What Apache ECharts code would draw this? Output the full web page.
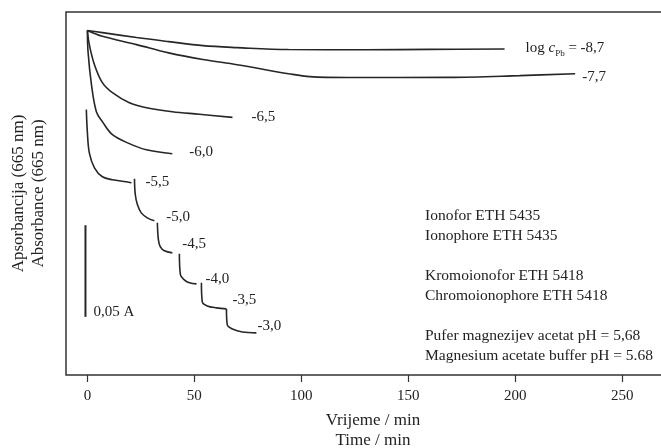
<!DOCTYPE html>
<html>
<head>
<meta charset="utf-8">
<script src="https://cdn.jsdelivr.net/npm/echarts@6/dist/echarts.min.js"></script>
<style>
html, body { margin: 0; padding: 0; background: #fff; }
#main { width: 661px; height: 448px; }
</style>
</head>
<body>
<div id="main"></div>
<script>
// time (min), absorbance (A)
var curve87 = [[0,0.1955],[7,0.1943],[23,0.1915],[38,0.1892],[54,0.1869],[70,0.1858],[94,0.1847],[130,0.1846],[160,0.1848],[195,0.1850]];
var curve77 = [[0,0.1955],[7,0.1922],[23,0.1875],[38,0.1828],[54,0.1790],[70,0.1761],[94,0.1710],[104,0.1693],[122,0.1688],[169,0.1689],[202,0.1699],[228,0.1710]];
var curve65 = [[0,0.1955],[0.9,0.1875],[3.3,0.1761],[7,0.1659],[11.7,0.1602],[19.6,0.1545],[27.6,0.1517],[39.7,0.1494],[52.3,0.1480],[67.8,0.1462]];
var curve60 = [[0,0.1955],[0.3,0.1835],[1.9,0.1648],[4.2,0.1494],[7,0.1438],[11.7,0.1364],[19.6,0.1313],[27.6,0.1278],[39.7,0.1256]];
var curve55 = [[-0.5,0.1506],[0,0.1375],[0.9,0.1261],[3.3,0.1176],[7,0.1125],[11.7,0.1108],[18.2,0.1097],[20.6,0.1091]];
var curve50 = [[22,0.1114],[22.4,0.1023],[23.4,0.0966],[25.2,0.0920],[28,0.0892],[31.3,0.0875]];
var curve45 = [[32.7,0.0864],[33.2,0.0767],[34.1,0.0727],[36,0.0705],[39.7,0.0693]];
var curve40 = [[43,0.0688],[43.5,0.0568],[45.3,0.0540],[47.7,0.0523],[51,0.0517]];
var curve35 = [[53.3,0.0523],[53.7,0.0415],[56,0.0392],[60.3,0.0381],[65,0.0375]];
var curve30 = [[65,0.0375],[65.4,0.0284],[67.8,0.0261],[72.4,0.0244],[79,0.0239]];
var scaleBar = [[-0.9,0.085],[-0.9,0.033]];

var curveNames = ['-8,7','-7,7','-6,5','-6,0','-5,5','-5,0','-4,5','-4,0','-3,5','-3,0'];
var xTicks = [0, 50, 100, 150, 200, 250];
var notes = [
    'Ionofor ETH 5435', 'Ionophore ETH 5435', '',
    'Kromoionofor ETH 5418', 'Chromoionophore ETH 5418', '',
    'Pufer magnezijev acetat pH = 5,68', 'Magnesium acetate buffer pH = 5.68'
];

var serif = '"Liberation Serif", "DejaVu Serif", serif';
var ink = '#262626';

var curves = [curve87, curve77, curve65, curve60, curve55, curve50, curve45, curve40, curve35, curve30];
var offsets = [[21,-1],[7,3],[19,0],[17,-2],[14,-1],[12,-4],[10,-9],[9,-5],[6,-9],[1,-7]];

var series = curves.map(function (d, i) {
    var name = curveNames[i];
    var lbl = {
        show: true,
        distance: 0,
        offset: offsets[i],
        color: '#222',
        fontFamily: serif,
        fontSize: 15,
        formatter: name
    };
    if (i === 0) {
        lbl.formatter = '{n|log }{i|c}{s|Pb}{n| = ' + name + '}';
        lbl.rich = {
            n: { fontFamily: serif, fontSize: 15, color: '#222', verticalAlign: 'middle', lineHeight: 20 },
            i: { fontFamily: serif, fontSize: 15, fontStyle: 'italic', color: '#222', verticalAlign: 'middle', lineHeight: 20 },
            s: { fontFamily: serif, fontSize: 9, color: '#222', verticalAlign: 'bottom', lineHeight: 11 }
        };
    }
    return {
        name: name,
        type: 'line',
        data: d,
        symbol: 'none',
        smooth: 0.35,
        silent: true,
        lineStyle: { color: ink, width: 1.6 },
        endLabel: lbl
    };
});

series.push({
    name: 'scale',
    type: 'line',
    data: scaleBar,
    symbol: 'none',
    silent: true,
    lineStyle: { color: ink, width: 2 },
    endLabel: {
        show: true, distance: 0, offset: [8, -5],
        color: '#222', fontFamily: serif, fontSize: 15,
        formatter: '0,05 A'
    }
});

var myChart = echarts.init(document.getElementById('main'));
var option = {
    animation: false,
    backgroundColor: '#fff',
    grid: {
        left: 66, top: 12, bottom: 73, right: -19,
        outerBoundsMode: 'none',
        show: true, borderColor: '#333', borderWidth: 1.5
    },
    xAxis: {
        type: 'value',
        min: -10,
        max: 277,
        name: 'Vrijeme / min\nTime / min',
        nameLocation: 'middle',
        nameGap: 36,
        nameTextStyle: { fontFamily: serif, fontSize: 17, color: '#222', lineHeight: 20 },
        axisLine: { show: false },
        axisTick: { show: true, length: 7, customValues: xTicks, lineStyle: { color: '#333', width: 1.2 } },
        axisLabel: { customValues: xTicks, margin: 14, fontFamily: serif, fontSize: 15, color: '#222' },
        splitLine: { show: false }
    },
    yAxis: {
        type: 'value',
        min: 0,
        max: 0.206,
        name: 'Apsorbancija (665 nm)\nAbsorbance (665 nm)',
        nameLocation: 'middle',
        nameRotate: 90,
        nameGap: 17,
        nameTextStyle: { fontFamily: serif, fontSize: 17, color: '#222', lineHeight: 20 },
        axisLine: { show: false },
        axisTick: { show: false },
        axisLabel: { show: false },
        splitLine: { show: false }
    },
    graphic: [{
        type: 'text',
        left: 425,
        top: 206,
        style: {
            text: notes.join('\n'),
            fontFamily: serif,
            fontSize: 15.5,
            lineHeight: 20,
            fill: '#222'
        }
    }],
    series: series
};
myChart.setOption(option);
</script>
</body>
</html>
